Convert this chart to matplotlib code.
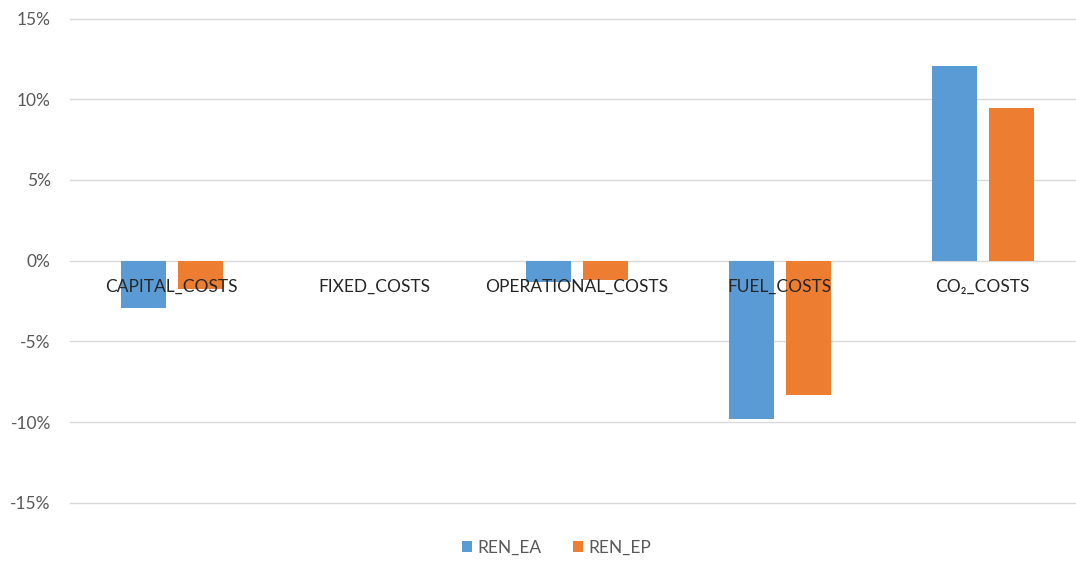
import numpy as np
import matplotlib.pyplot as plt
from matplotlib.ticker import PercentFormatter

categories = ['CAPITAL_COSTS', 'FIXED_COSTS', 'OPERATIONAL_COSTS', 'FUEL_COSTS', 'CO\u2082_COSTS']
ren_ea = [-2.95, 0.0, -1.3, -9.83, 12.08]
ren_ep = [-1.75, 0.0, -1.2, -8.32, 9.48]
yticks = [-15, -10, -5, 0, 5, 10, 15]

plt.rcParams['font.family'] = ['Lato', 'DejaVu Sans']
plt.rcParams['axes.unicode_minus'] = False

fig = plt.figure(figsize=(10.76, 5.62), dpi=100)
# plot area runs a little past the right edge, like the cropped original
ax = fig.add_axes([0.0653, 0.1053, 0.9421, 0.8617])

x = np.arange(len(categories))
w = 0.222
off = 0.1406
ax.bar(x - off, ren_ea, w, color='#5B9BD5', label='REN_EA', zorder=2)
ax.bar(x + off, ren_ep, w, color='#ED7D31', label='REN_EP', zorder=2)

ax.set_xlim(-0.5, len(categories) - 0.5)
ax.set_ylim(-15, 15)
ax.set_yticks(yticks)
ax.yaxis.set_major_formatter(PercentFormatter(decimals=0))
ax.tick_params(axis='y', length=0, pad=14, labelsize=12.5, labelcolor='#595959')
ax.set_xticks([])
ax.grid(axis='y', color='#d9d9d9', linewidth=1, zorder=0)
for gl in ax.get_ygridlines():
    gl.set_clip_on(False)
for s in ax.spines.values():
    s.set_visible(False)

# category labels sit just under the zero line, over the bars (Excel style)
for i, cat in enumerate(categories):
    ax.annotate(cat, xy=(i, 0), xytext=(0, -19), textcoords='offset points',
                ha='center', va='center', fontsize=12.5, color='#262626', zorder=3)

fig.legend(loc='center', bbox_to_anchor=(0.517, 0.025), ncol=2, frameon=False,
           fontsize=12.5, handlelength=0.6, handleheight=0.6, handletextpad=0.3,
           columnspacing=1.8, labelcolor='#595959')

fig.savefig('out.png', dpi=100)
